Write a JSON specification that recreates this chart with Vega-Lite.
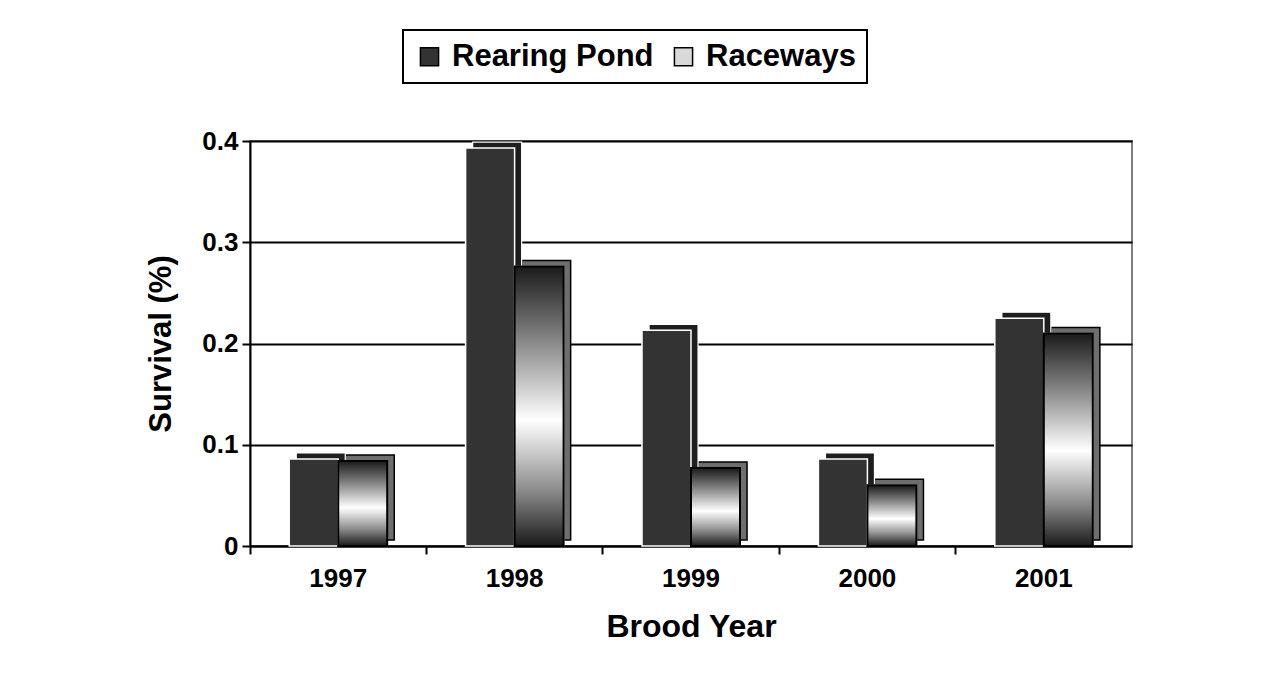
{
  "$schema": "https://vega.github.io/schema/vega-lite/v6.json",
  "autosize": {"type": "none"},
  "width": 882,
  "height": 405,
  "padding": {"left": 250, "top": 141, "right": 135, "bottom": 141},
  "background": "white",
  "config": {
    "font": "Liberation Sans",
    "view": {"stroke": "#808080", "strokeWidth": 2},
    "axis": {"labelFont": "Liberation Sans", "titleFont": "Liberation Sans", "labelFontWeight": "bold", "titleFontWeight": "bold", "labelColor": "black", "titleColor": "black", "domainColor": "black", "tickColor": "black", "domainWidth": 2, "tickWidth": 2},
    "legend": {"strokeColor": "black", "strokeWidth": 2, "padding": 11, "fillColor": "white"}
  },
  "data": {
    "values": [
      {"year": "1997", "series": "Rearing Pond", "value": 0.086},
      {"year": "1997", "series": "Raceways", "value": 0.084},
      {"year": "1998", "series": "Rearing Pond", "value": 0.393},
      {"year": "1998", "series": "Raceways", "value": 0.276},
      {"year": "1999", "series": "Rearing Pond", "value": 0.213},
      {"year": "1999", "series": "Raceways", "value": 0.077},
      {"year": "2000", "series": "Rearing Pond", "value": 0.086},
      {"year": "2000", "series": "Raceways", "value": 0.060},
      {"year": "2001", "series": "Rearing Pond", "value": 0.225},
      {"year": "2001", "series": "Raceways", "value": 0.210}
    ]
  },
  "encoding": {
    "x": {
      "field": "year", "type": "nominal",
      "scale": {"paddingInner": 0, "paddingOuter": 0},
      "axis": {"title": "Brood Year", "labelAngle": 0, "labelFontSize": 26, "titleFontSize": 32, "bandPosition": 0, "tickSize": 8, "labelPadding": 11, "titlePadding": 20, "grid": false}
    },
    "y": {
      "field": "value", "type": "quantitative",
      "scale": {"domain": [0, 0.4]},
      "axis": {"title": "Survival (%)", "values": [0, 0.1, 0.2, 0.3, 0.4], "format": "~g", "labelFontSize": 26, "titleFontSize": 31, "tickSize": 8, "labelPadding": 4, "titlePadding": 24, "grid": true, "gridColor": "black", "gridWidth": 2, "gridOpacity": 1}
    }
  },
  "resolve": {"scale": {"xOffset": "independent"}},
  "layer": [
    {
      "transform": [{"filter": "datum.series === 'Raceways'"}],
      "mark": {"type": "bar", "fill": "#6e6e6e", "stroke": "black", "strokeWidth": 1.5, "yOffset": -6},
      "encoding": {
        "xOffset": {"field": "series", "type": "nominal", "scale": {"domain": ["Rearing Pond", "Raceways"], "paddingInner": 0, "paddingOuter": 0.8, "align": 0.59}}
      }
    },
    {
      "transform": [{"filter": "datum.series === 'Rearing Pond'"}],
      "mark": {"type": "bar", "fill": "#1e1e1e", "stroke": "white", "strokeWidth": 1.2, "yOffset": -6},
      "encoding": {
        "xOffset": {"field": "series", "type": "nominal", "scale": {"domain": ["Rearing Pond", "Raceways"], "paddingInner": 0, "paddingOuter": 0.8, "align": 0.59}}
      }
    },
    {
      "mark": {"type": "bar", "stroke": "white", "strokeWidth": 1.5},
      "encoding": {
        "xOffset": {"field": "series", "type": "nominal", "scale": {"domain": ["Rearing Pond", "Raceways"], "paddingInner": 0, "paddingOuter": 0.8}},
        "color": {
          "field": "series", "type": "nominal",
          "scale": {"domain": ["Rearing Pond", "Raceways"], "range": ["#333333", "#d9d9d9"]},
          "legend": {
            "title": null, "orient": "none", "direction": "horizontal",
            "legendX": 153, "legendY": -111,
            "labelFont": "Liberation Sans", "labelFontWeight": "bold", "labelFontSize": 31, "labelColor": "black", "labelLimit": 400,
            "symbolType": "square", "symbolSize": 330, "symbolStrokeColor": "black", "symbolStrokeWidth": 1.5,
            "labelOffset": 7, "columnPadding": 14
          }
        }
      }
    },
    {
      "transform": [{"filter": "datum.series === 'Raceways'"}],
      "mark": {
        "type": "bar", "stroke": "black", "strokeWidth": 2,
        "fill": {"gradient": "linear", "x1": 0, "y1": 0, "x2": 0, "y2": 1, "stops": [
          {"offset": 0, "color": "#1a1a1a"},
          {"offset": 0.25, "color": "#808080"},
          {"offset": 0.55, "color": "#ffffff"},
          {"offset": 0.8, "color": "#8c8c8c"},
          {"offset": 1, "color": "#1a1a1a"}
        ]}
      },
      "encoding": {
        "xOffset": {"field": "series", "type": "nominal", "scale": {"domain": ["Rearing Pond", "Raceways"], "paddingInner": 0, "paddingOuter": 0.8}}
      }
    }
  ]
}
